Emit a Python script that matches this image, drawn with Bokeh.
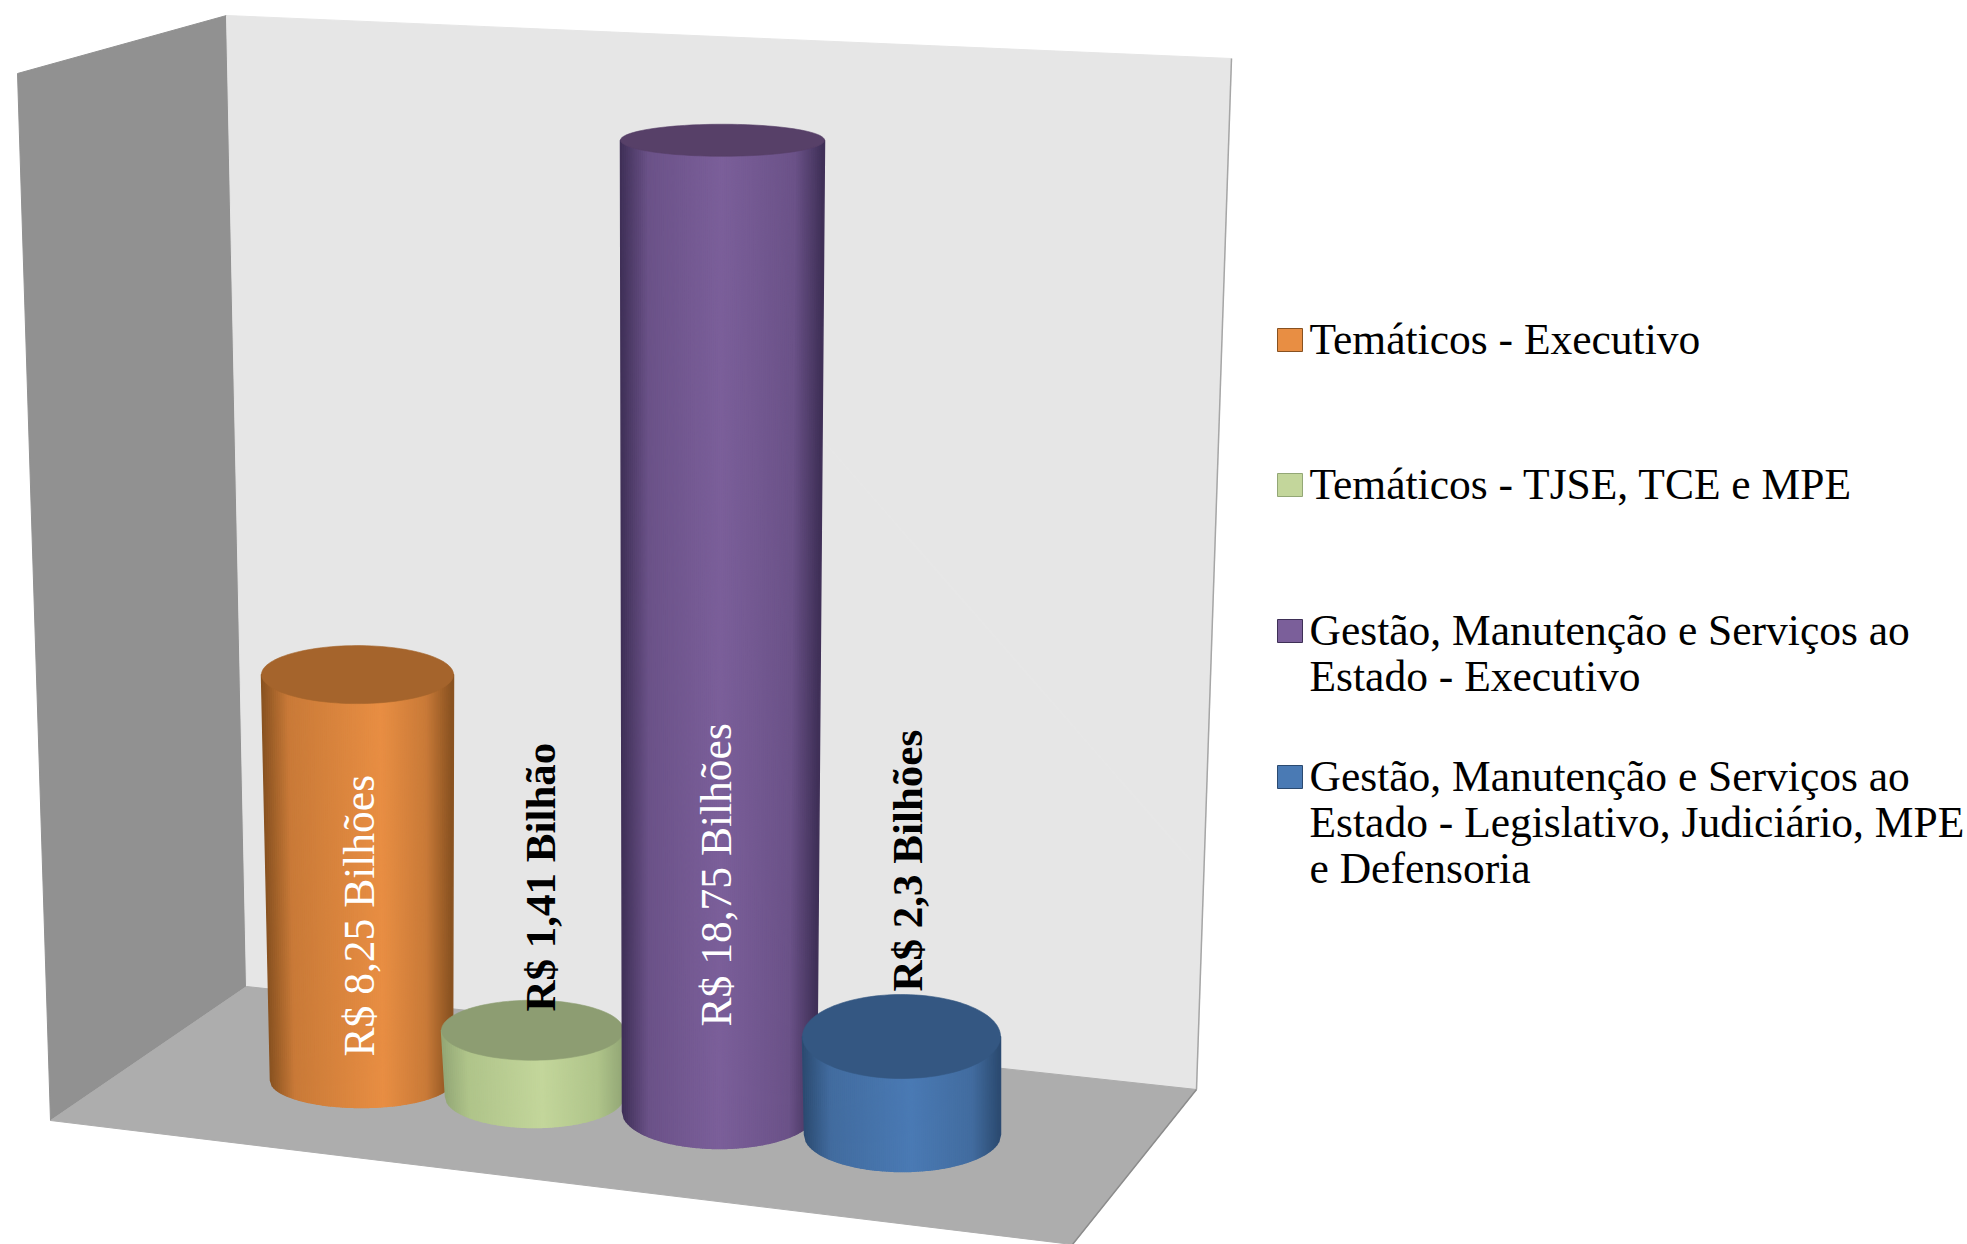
import numpy as np
from bokeh.core.properties import value
from bokeh.embed import file_html
from bokeh.models import ColumnDataSource, Range1d
from bokeh.plotting import figure
from bokeh.resources import INLINE

# Program values, in billions of reais
programs = ["Temáticos - Executivo", "Temáticos - TJSE, TCE e MPE",
            "Gestão, Manutenção e Serviços ao Estado - Executivo",
            "Gestão, Manutenção e Serviços ao Estado - Legislativo, Judiciário, MPE e Defensoria"]
amounts = [8.25, 1.41, 18.75, 2.3]
amount_labels = ["R$ 8,25 Bilhões", "R$ 1,41 Bilhão", "R$ 18,75 Bilhões", "R$ 2,3 Bilhões"]
legend_lines = [["Temáticos - Executivo"],
                ["Temáticos - TJSE, TCE e MPE"],
                ["Gestão, Manutenção e Serviços ao", "Estado - Executivo"],
                ["Gestão, Manutenção e Serviços ao", "Estado - Legislativo, Judiciário, MPE", "e Defensoria"]]

W, H = 1967, 1244
UNIT = 50.0      # page pixels per billion on the vertical scale
ORIGIN = 1100.0  # page row of the zero level of the vertical scale


def vy(row):
    """Page row to vertical-scale units."""
    return (ORIGIN - np.asarray(row, dtype=float)) / UNIT


# Cylinder layout: base centre column, base centre row, radii, foreshortening
base_cx = [361, 534, 719, 902]
top_cx = [357, 532, 722, 901]
base_cy = [1080, 1096, 1111, 1134]
rx_base = [91, 89, 97, 98]
rx_top = [96, 91, 102, 99]
ry_base = [27, 31, 37, 37]
ry_top = [29, 30, 16, 42]
foreshorten = [0.984, 0.94, 1.036, 0.852]

# Shading colours: side edge, shoulder, highlight, top cap
shades = [("#875120", "#c97a38", "#e88e43", "#a5642c"),
          ("#93a776", "#afc48a", "#c3d69b", "#8d9d72"),
          ("#3e2f56", "#6b5288", "#7b5f9a", "#574068"),
          ("#2b4a70", "#426c9f", "#4a7ab4", "#345782")]
shade_pos = [-1.0, -0.72, 0.15, 0.72, 1.0]
highlight_shift = [0.25, 0.1, 0.0, 0.1]
label_colors = ["#ffffff", "#000000", "#ffffff", "#000000"]
label_styles = ["normal", "bold", "normal", "bold"]
label_sizes = ["43.5px", "43px", "43.5px", "43px"]
label_col = [358, 540, 715, 907]
label_row = [1056, 1011, 1026, 991]

wall_color, side_color, floor_color = "#e6e6e6", "#919191", "#adadad"


def rgb(h):
    return np.array([int(h[i:i + 2], 16) for i in (1, 3, 5)], dtype=float)


def to_hex(c):
    return "#%02x%02x%02x" % tuple(int(round(v)) for v in c)


p = figure(width=W, height=H, output_backend="svg", toolbar_location=None,
           x_range=Range1d(0, W), y_range=Range1d(float(vy(H)), float(vy(0))),
           x_axis_type=None, y_axis_type=None, min_border=0,
           background_fill_color="white", border_fill_color="white", outline_line_color=None)
p.grid.visible = False

# Box of the chart: side wall, back wall and floor
p.patch([17, 226, 246, 50], vy([73, 15, 986, 1120]), fill_color=side_color, line_color=side_color, line_width=1)
p.patch([226, 1231, 1196, 246], vy([15, 58, 1089, 986]), fill_color=wall_color, line_color=wall_color, line_width=1)
p.line([1231, 1196], vy([58, 1089]), line_color="#a6a6a6", line_width=1.5)
p.line([700, 1190], vy([300, 860]), line_color="#e7e7e7", line_width=2)
p.patch([50, 246, 1196, 1072, 1072], vy([1120, 986, 1089, 1244, 1244]), fill_color=floor_color,
        line_color=floor_color, line_width=1)
p.line([1196, 1072], vy([1089, 1244]), line_color="#8c8c8c", line_width=1.5)

# Cylinders, back to front, each side built from thin shaded strips
for i, amount in enumerate(amounts):
    top_cy = base_cy[i] - amount * UNIT * foreshorten[i]
    edges = np.linspace(-1, 1, int(rx_base[i]) + 1)
    xs, ys, cols = [], [], []
    edge, shoulder, high, cap = [rgb(c) for c in shades[i]]
    stops = [edge, shoulder, high, shoulder, edge]
    pos = list(shade_pos)
    pos[2] = highlight_shift[i]
    for a, b in zip(edges[:-1], edges[1:]):
        mid = (a + b) / 2
        col = [np.interp(mid, pos, [s[k] for s in stops]) for k in range(3)]
        xs.append([top_cx[i] + a * rx_top[i], top_cx[i] + b * rx_top[i],
                   base_cx[i] + b * rx_base[i], base_cx[i] + a * rx_base[i]])
        ys.append(list(vy([top_cy, top_cy,
                           base_cy[i] + np.sqrt(1 - b * b) * ry_base[i],
                           base_cy[i] + np.sqrt(1 - a * a) * ry_base[i]])))
        cols.append(to_hex(col))
    p.patches(xs, ys, fill_color=cols, line_color=cols, line_width=1.5)
    th = np.linspace(0, 2 * np.pi, 120)
    p.patch(top_cx[i] + rx_top[i] * np.cos(th), vy(top_cy + ry_top[i] * np.sin(th)),
            fill_color=to_hex(cap), line_color=to_hex(cap), line_width=0.6)

# Value labels, rotated along the cylinders
for i, label in enumerate(amount_labels):
    p.text([label_col[i]], vy([label_row[i]]), text=[label], angle=np.pi / 2,
           text_font=value("Liberation Serif"), text_font_size=label_sizes[i], text_font_style=label_styles[i],
           text_color=label_colors[i], text_align="left", text_baseline="middle")

# Legend: swatch and wrapped label for each program
legend_first_row = [338, 483, 629, 775]
line_gap = 46
for i, lines in enumerate(legend_lines):
    row = legend_first_row[i]
    p.quad(left=[1277], right=[1302], top=vy([row - 10]), bottom=vy([row + 13]),
           fill_color=shades[i][2], line_color=shades[i][0], line_width=1)
    src = ColumnDataSource(dict(x=[1309] * len(lines),
                                y=vy([row + k * line_gap for k in range(len(lines))]), t=lines))
    p.text("x", "y", text="t", source=src, text_font=value("Liberation Serif"), text_font_size="43.5px",
           text_color="#000000", text_align="left", text_baseline="middle")

open("out.html", "w").write(file_html(p, INLINE))
